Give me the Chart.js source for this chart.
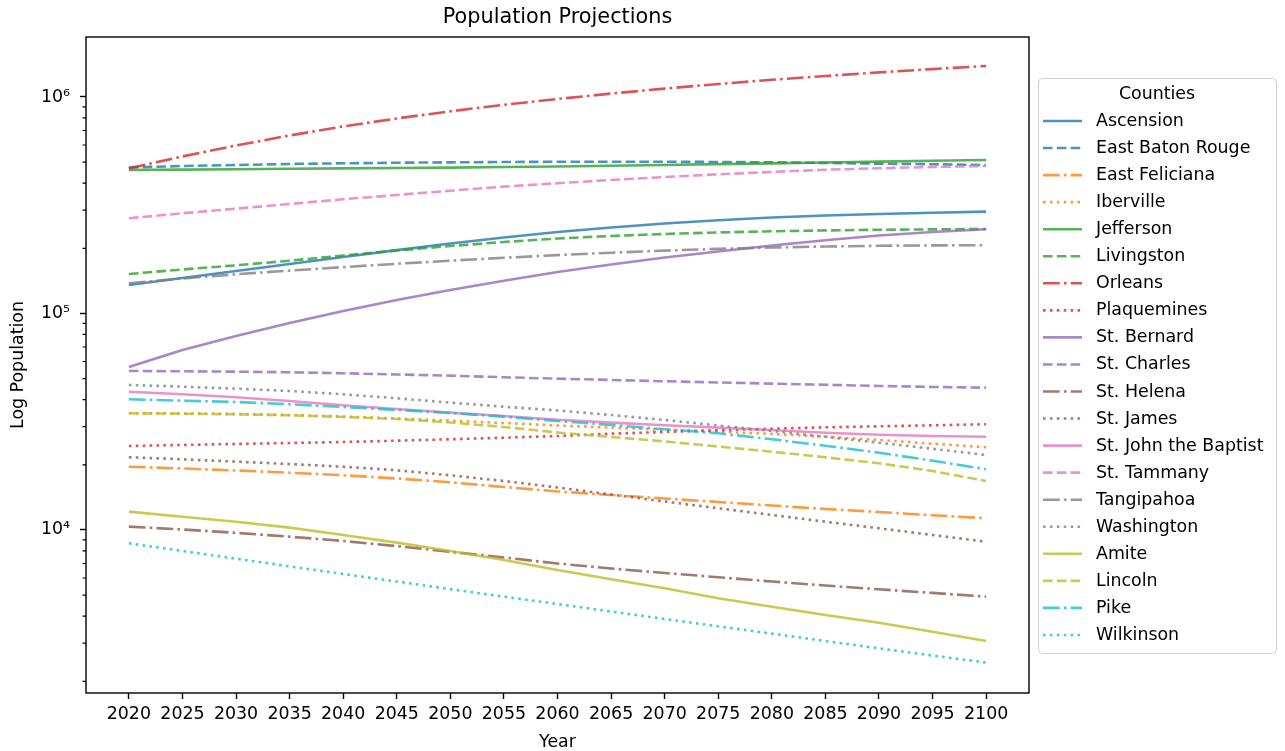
<!DOCTYPE html>
<html>
<head>
<meta charset="utf-8">
<title>Population Projections</title>
<script src="https://cdn.jsdelivr.net/npm/chart.js@4.4.1/dist/chart.umd.min.js"></script>
<style>
  html, body { margin: 0; padding: 0; background: #ffffff; }
  canvas { display: block; }
</style>
</head>
<body>
<canvas id="chart" width="1285" height="751"></canvas>
<script>
// Projection years (x axis categories and tick labels)
const years = [2020, 2025, 2030, 2035, 2040, 2045, 2050, 2055, 2060, 2065, 2070, 2075, 2080, 2085, 2090, 2095, 2100];
const yearLabels = years.map(String);

// Projected population per county
const ascension      = [135400, 145900, 157100, 169300, 182400, 196100, 210600, 224400, 237900, 249600, 260400, 269500, 277600, 283600, 288200, 291800, 295300];
const eastBatonRouge = [472400, 480000, 485000, 490400, 494000, 497000, 499000, 501000, 502000, 502000, 502000, 501000, 499000, 496000, 492000, 489000, 485000];
const eastFeliciana  = [19600, 19230, 18830, 18390, 17910, 17290, 16610, 15800, 15060, 14510, 13980, 13470, 12970, 12500, 12110, 11700, 11320];
const iberville      = [34590, 34520, 34350, 33980, 33440, 32730, 31970, 31200, 30390, 29690, 29060, 28440, 27760, 26970, 26050, 25030, 24100];
const jefferson      = [460000, 462000, 464000, 466000, 468000, 470000, 472000, 475000, 477500, 481000, 485000, 489500, 493600, 498400, 503000, 507400, 511700];
const livingston     = [152200, 159700, 166900, 175300, 185300, 195400, 205000, 213900, 222000, 228000, 233000, 236700, 239700, 242000, 243500, 244600, 245600];
const orleans        = [468000, 531200, 597000, 664200, 730900, 795800, 858900, 920400, 979000, 1036800, 1093400, 1148200, 1200700, 1250300, 1299000, 1345500, 1390600];
const plaquemines    = [24430, 24700, 24960, 25220, 25490, 25850, 26240, 26690, 27170, 27850, 28360, 28880, 29360, 29800, 30120, 30450, 30780];
const stBernard      = [56600, 67800, 78700, 90400, 102700, 115400, 128400, 141600, 155500, 168400, 181400, 193400, 206200, 217900, 229300, 237900, 244900];
const stCharles      = [54260, 54080, 53860, 53510, 52950, 52270, 51620, 50740, 49990, 49300, 48630, 48020, 47400, 46850, 46260, 45770, 45430];
const stHelena       = [10360, 10050, 9700, 9310, 8900, 8420, 7930, 7460, 7000, 6640, 6330, 6050, 5780, 5540, 5320, 5120, 4920];
const stJames        = [21670, 21210, 20680, 20170, 19600, 18870, 17890, 16840, 15720, 14580, 13540, 12600, 11730, 10920, 10180, 9480, 8830];
const stJohn         = [43530, 42350, 41010, 39430, 37670, 36220, 34830, 33620, 32320, 31310, 30450, 29690, 28970, 28140, 27550, 27170, 26970];
const stTammany      = [275300, 290300, 304900, 320500, 337000, 352700, 369200, 385300, 399500, 413700, 427000, 439500, 450400, 461500, 468500, 475000, 480000];
const tangipahoa     = [137900, 145100, 151700, 157800, 163800, 169600, 175300, 180800, 186100, 190900, 195200, 198800, 201700, 203900, 205500, 206300, 206800];
const washington     = [46750, 45920, 44950, 43850, 42350, 40580, 38730, 37120, 35640, 33980, 32220, 30390, 28660, 26950, 25300, 23710, 22200];
const amite          = [12150, 11520, 10920, 10250, 9480, 8740, 8000, 7270, 6540, 5920, 5380, 4840, 4420, 4050, 3730, 3390, 3070];
const lincoln        = [34590, 34450, 34230, 33870, 33260, 32570, 31370, 29900, 28200, 26890, 25640, 24300, 22990, 21670, 20330, 18730, 16840];
const pike           = [40160, 39560, 39020, 38080, 37000, 35840, 34710, 33380, 31870, 30550, 29180, 27960, 26240, 24510, 22750, 20900, 19070];
const wilkinson      = [8680, 8000, 7370, 6790, 6260, 5780, 5330, 4920, 4550, 4200, 3880, 3590, 3320, 3070, 2840, 2630, 2440];

const countyNames = [
  'Ascension', 'East Baton Rouge', 'East Feliciana', 'Iberville', 'Jefferson',
  'Livingston', 'Orleans', 'Plaquemines', 'St. Bernard', 'St. Charles',
  'St. Helena', 'St. James', 'St. John the Baptist', 'St. Tammany', 'Tangipahoa',
  'Washington', 'Amite', 'Lincoln', 'Pike', 'Wilkinson'
];
const countySeries = [
  ascension, eastBatonRouge, eastFeliciana, iberville, jefferson,
  livingston, orleans, plaquemines, stBernard, stCharles,
  stHelena, stJames, stJohn, stTammany, tangipahoa,
  washington, amite, lincoln, pike, wilkinson
];

// Log-axis ticks
const yMajorValues = [10000, 100000, 1000000];
const yMajorLabels = ['10\u2074', '10\u2075', '10\u2076'];
const yMinorValues = [
  2000, 3000, 4000, 5000, 6000, 7000, 8000, 9000,
  20000, 30000, 40000, 50000, 60000, 70000, 80000, 90000,
  200000, 300000, 400000, 500000, 600000, 700000, 800000, 900000
];

const chartTitle = 'Population Projections';
const legendTitle = 'Counties';

// ---- styling ----
const FONT = '"DejaVu Sans", "Liberation Sans", sans-serif';
const palette = ['#1f77b4', '#ff7f0e', '#2ca02c', '#d62728', '#9467bd',
                 '#8c564b', '#e377c2', '#7f7f7f', '#bcbd22', '#17becf'];
const dashStyles = [[], [9.6, 4.2], [16.7, 4.2, 2.6, 4.2], [2.6, 4.3]];
const LINE_W = 2.6;
const ALPHA = 0.8;

function withAlpha(hex, a) {
  const n = parseInt(hex.slice(1), 16);
  return `rgba(${(n >> 16) & 255}, ${(n >> 8) & 255}, ${n & 255}, ${a})`;
}

const datasets = countyNames.map((name, i) => ({
  label: name,
  data: years.map((yr, k) => ({ x: yr, y: countySeries[i][k] })),
  borderColor: withAlpha(palette[Math.floor(i / 2) % palette.length], ALPHA),
  backgroundColor: 'transparent',
  borderWidth: LINE_W,
  borderDash: dashStyles[i % 4],
  borderCapStyle: 'butt',
  borderJoinStyle: 'round',
  pointRadius: 0,
  pointHoverRadius: 0,
  tension: 0,
  fill: false,
  order: countyNames.length - i   // later counties drawn on top
}));

// Frame, minor ticks, title and legend box
const decorations = {
  id: 'decorations',
  afterDatasetsDraw(chart) {
    const { ctx, chartArea: a } = chart;
    ctx.save();
    ctx.strokeStyle = '#000';
    ctx.lineWidth = 1.4;
    ctx.setLineDash([]);
    ctx.strokeRect(a.left, a.top, a.right - a.left, a.bottom - a.top);
    ctx.restore();
  },
  afterDraw(chart) {
    const { ctx, chartArea: a } = chart;
    const yScale = chart.scales.y;
    ctx.save();

    // minor ticks on the log axis
    ctx.strokeStyle = '#000';
    ctx.lineWidth = 1.2;
    ctx.beginPath();
    yMinorValues.forEach(v => {
      const py = yScale.getPixelForValue(v);
      if (py >= a.top && py <= a.bottom) {
        ctx.moveTo(a.left, py);
        ctx.lineTo(a.left - 3.5, py);
      }
    });
    ctx.stroke();

    // title
    ctx.fillStyle = '#000';
    ctx.font = `20.8px ${FONT}`;
    ctx.textAlign = 'center';
    ctx.textBaseline = 'middle';
    ctx.fillText(chartTitle, (a.left + a.right) / 2, 18);

    // legend frame
    const bx = 1038.5, by = 78.5, bw = 238, bh = 575, r = 4;
    ctx.beginPath();
    ctx.moveTo(bx + r, by);
    ctx.lineTo(bx + bw - r, by);
    ctx.arcTo(bx + bw, by, bx + bw, by + r, r);
    ctx.lineTo(bx + bw, by + bh - r);
    ctx.arcTo(bx + bw, by + bh, bx + bw - r, by + bh, r);
    ctx.lineTo(bx + r, by + bh);
    ctx.arcTo(bx, by + bh, bx, by + bh - r, r);
    ctx.lineTo(bx, by + r);
    ctx.arcTo(bx, by, bx + r, by, r);
    ctx.closePath();
    ctx.fillStyle = 'rgba(255,255,255,0.8)';
    ctx.fill();
    ctx.strokeStyle = '#d0d0d0';
    ctx.lineWidth = 1;
    ctx.stroke();

    // legend title
    ctx.fillStyle = '#000';
    ctx.font = `17.4px ${FONT}`;
    ctx.textAlign = 'center';
    ctx.fillText(legendTitle, 1157, 94.5);

    // legend entries
    ctx.textAlign = 'left';
    chart.data.datasets.forEach((ds, i) => {
      const cy = 121 + 27.05 * i;
      ctx.beginPath();
      ctx.setLineDash(ds.borderDash);
      ctx.lineCap = 'butt';
      ctx.strokeStyle = ds.borderColor;
      ctx.lineWidth = ds.borderWidth;
      ctx.moveTo(1043, cy);
      ctx.lineTo(1082, cy);
      ctx.stroke();
      ctx.setLineDash([]);
      ctx.fillStyle = '#000';
      ctx.fillText(ds.label, 1096, cy + 0.5);
    });

    ctx.restore();
  }
};

new Chart(document.getElementById('chart'), {
  type: 'line',
  data: { datasets },
  plugins: [decorations],
  options: {
    responsive: false,
    animation: false,
    devicePixelRatio: 1,
    layout: { padding: { left: 0, top: 37, right: 256, bottom: 0 } },
    plugins: {
      legend: { display: false },
      title: { display: false },
      tooltip: { enabled: false }
    },
    scales: {
      x: {
        type: 'linear',
        min: 2016,
        max: 2104,
        afterBuildTicks: s => { s.ticks = years.map(v => ({ value: v })); },
        afterFit: s => { s.height = 58; },
        ticks: {
          autoSkip: false,
          maxRotation: 0,
          minRotation: 0,
          padding: 5,
          color: '#000',
          font: { family: FONT, size: 17.4 },
          callback: (v, idx) => yearLabels[idx]
        },
        grid: {
          drawOnChartArea: false,
          drawTicks: true,
          tickLength: 6,
          tickWidth: 1.4,
          tickColor: '#000'
        },
        border: { display: false },
        title: {
          display: true,
          text: 'Year',
          color: '#000',
          font: { family: FONT, size: 17.4, lineHeight: 1.2 },
          padding: { top: 0, bottom: -2 }
        }
      },
      y: {
        type: 'logarithmic',
        min: 1766,
        max: 1892700,
        afterBuildTicks: s => {
          s.ticks = [...yMinorValues, ...yMajorValues].sort((p, q) => p - q).map(v => ({ value: v }));
        },
        afterFit: s => { s.width = 86; },
        ticks: {
          autoSkip: false,
          padding: 10,
          color: '#000',
          font: { family: FONT, size: 17.4 },
          callback: v => {
            const k = yMajorValues.indexOf(v);
            return k >= 0 ? yMajorLabels[k] : '';
          }
        },
        grid: {
          drawOnChartArea: false,
          drawTicks: true,
          tickLength: 6,
          tickWidth: 1.4,
          tickColor: c => (c.tick && yMajorValues.includes(c.tick.value)) ? '#000' : 'rgba(0,0,0,0)'
        },
        border: { display: false },
        title: {
          display: true,
          text: 'Log Population',
          color: '#000',
          font: { family: FONT, size: 17.4, lineHeight: 1.2 },
          padding: { top: 8, bottom: 0 }
        }
      }
    }
  }
});
</script>
</body>
</html>
